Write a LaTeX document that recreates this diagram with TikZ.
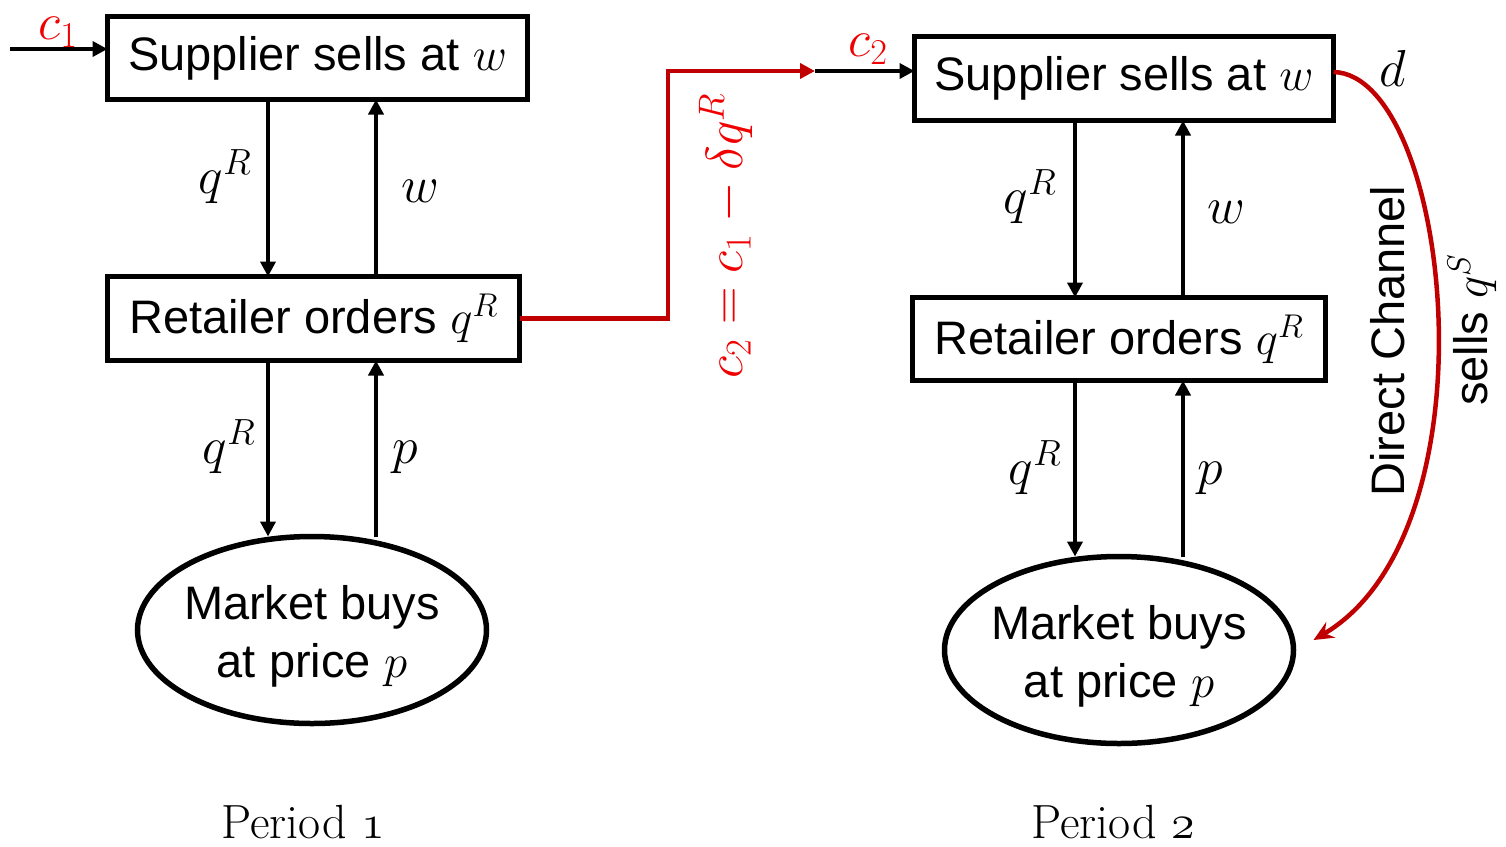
\RequirePackage{fix-cm}
\documentclass[tikz,border=0pt]{standalone}
\usepackage{fontspec}
\setmainfont{Liberation Sans}
\newfontfamily\perfont{Latin Modern Roman}
\usetikzlibrary{arrows.meta,shapes.geometric}
\definecolor{dred}{HTML}{C00000}
\definecolor{bred}{HTML}{F00000}
\begin{document}
\begin{tikzpicture}[x=1pt,y=-1pt,
  every node/.style={font=\fontsize{47}{58}\selectfont, inner sep=0pt, outer sep=0pt},
  mlbl/.style={font=\fontsize{52}{60}\selectfont},
  boxnode/.style={draw, line width=5.5pt},
  mkt/.style={ellipse, draw, line width=5.5pt, minimum width=349pt, minimum height=187pt},
  arr/.style={line width=4.5pt, -{Triangle[length=15pt,width=15pt]}},
  redarr/.style={draw=dred, line width=4.5pt, -{Triangle[length=15pt,width=15pt]}},
  curvearr/.style={draw=dred, line width=4.5pt, -{Stealth[length=20pt,width=18pt,inset=7pt]}},
  redtxt/.style={text=bred},
  pertxt/.style={font=\perfont\fontsize{48}{54}\selectfont}
]
\useasboundingbox (0,0) rectangle (1506,846);
\fill[white] (0,0) rectangle (1506,846);

% ---------- Period 1 ----------
\node[boxnode, minimum width=420pt, minimum height=83pt] (sup1) at (317.5,58) {Supplier sells at $w$};
\node[boxnode, minimum width=412pt, minimum height=84pt] (ret1) at (313.5,318.5) {Retailer orders $q^R$};
\node[mkt] (mk1) at (312,630) {};
\node[align=center] (mk1t) at (312,636) {Market buys\\at price $p$};

\coordinate (xa) at (268,0);
\coordinate (xb) at (376,0);
\draw[arr] (xa |- sup1.south) -- (xa |- ret1.north);
\draw[arr] (xb |- ret1.north) -- (xb |- sup1.south);
\draw[arr] (xa |- ret1.south) -- (xa |- mk1.north);
\draw[arr] (xb |- mk1.north) -- (xb |- ret1.south);

\node[mlbl] (l1) at (225,177) {$q^R$};
\node[mlbl] (l2) at (420,191) {$w$};
\node[mlbl] (l3) at (229,447) {$q^R$};
\node[mlbl] (l4) at (405,457) {$p$};

\coordinate (c1s) at (10,49);
\draw[arr] (c1s) -- (c1s -| sup1.west);
\node[redtxt, mlbl] (c1) at (58,32) {$c_1$};

\node[pertxt] (per1) at (303,822) {Period $\mathnormal{1}$};

% ---------- transfer ----------
\coordinate (bend1) at (668,71);
\coordinate (mid) at (815,71);
\draw[redarr] (ret1.east) -| (bend1) -- (mid);
\node[redtxt, mlbl, rotate=90] (form) at (726,236) {$c_2 = c_1 - \delta q^R$};

% ---------- Period 2 ----------
\node[boxnode, minimum width=419pt, minimum height=84pt] (sup2) at (1124,78.5) {Supplier sells at $w$};
\node[boxnode, minimum width=413pt, minimum height=83pt] (ret2) at (1119,339) {Retailer orders $q^R$};
\node[mkt] (mk2) at (1119,650) {};
\node[align=center] (mk2t) at (1119,656) {Market buys\\at price $p$};

\draw[arr] (mid) -- (mid -| sup2.west);
\node[redtxt, mlbl] (c2) at (868,49) {$c_2$};

\coordinate (xc) at (1075,0);
\coordinate (xd) at (1183,0);
\draw[arr] (xc |- sup2.south) -- (xc |- ret2.north);
\draw[arr] (xd |- ret2.north) -- (xd |- sup2.south);
\draw[arr] (xc |- ret2.south) -- (xc |- mk2.north);
\draw[arr] (xd |- mk2.north) -- (xd |- ret2.south);

\node[mlbl] (l5) at (1030,197) {$q^R$};
\node[mlbl] (l6) at (1226,212) {$w$};
\node[mlbl] (l7) at (1035,468) {$q^R$};
\node[mlbl] (l8) at (1210,478) {$p$};

\draw[curvearr] ([yshift=6.5pt]sup2.east) .. controls (1450,75) and (1500,530) .. ([xshift=20pt,yshift=10pt]mk2.east);
\node[mlbl] (dl) at (1393,68) {$d$};
\node[rotate=90] (dc) at (1388,341) {Direct Channel};
\node[rotate=90] (sq) at (1472,330) {sells $q^S$};

\node[pertxt] (per2) at (1113,822) {Period $\mathnormal{2}$};
\end{tikzpicture}
\end{document}
